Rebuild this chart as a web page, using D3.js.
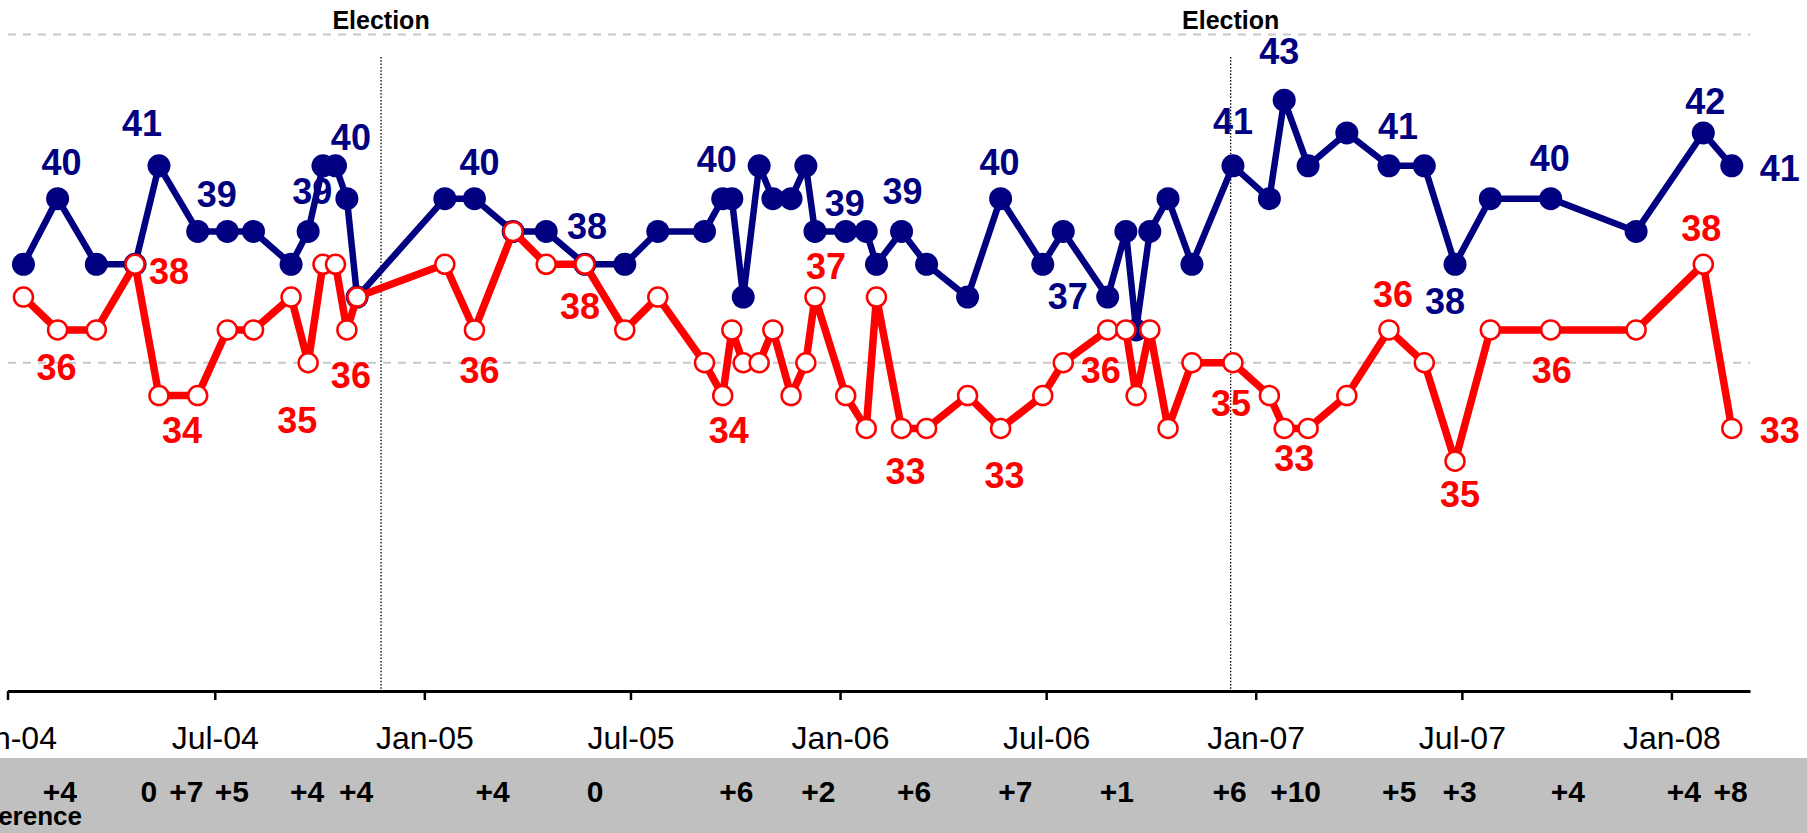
<!DOCTYPE html>
<html>
<head>
<meta charset="utf-8">
<script src="https://cdn.jsdelivr.net/npm/d3@7"></script>
<style>
  body { margin: 0; background: #fff; }
  svg { display: block; font-family: "Liberation Sans", Arial, sans-serif; }
</style>
</head>
<body>
<svg id="chart" width="1807" height="833"></svg>
<script>
// Survey dates and the two series
const dates = [
  "2004-01-15","2004-02-14","2004-03-19","2004-04-22","2004-05-13","2004-06-16","2004-07-12","2004-08-04",
  "2004-09-06","2004-09-21","2004-10-04","2004-10-15","2004-10-25","2004-11-03","2005-01-19","2005-02-14",
  "2005-03-20","2005-04-18","2005-05-22","2005-06-26","2005-07-25","2005-09-04","2005-09-20","2005-09-28",
  "2005-10-08","2005-10-22","2005-11-03","2005-11-19","2005-12-02","2005-12-10","2006-01-06","2006-01-24",
  "2006-02-02","2006-02-24","2006-03-18","2006-04-23","2006-05-22","2006-06-28","2006-07-16","2006-08-24",
  "2006-09-09","2006-09-18","2006-09-30","2006-10-16","2006-11-06","2006-12-12","2007-01-13","2007-01-26",
  "2007-02-16","2007-03-22","2007-04-28","2007-05-29","2007-06-25","2007-07-26","2007-09-17","2007-12-01",
  "2008-01-29","2008-02-23"
];
const blueValues = [38,40,38,38,41,39,39,39,38,39, 41,41,40,37,40,40,39,39,38,38,
                    39,39,40,40,37,41,40,40,41,39, 39,39,38,39,38,37,40,38,39,37,
                    39,36,39,40,38,41,40,43,41,42, 41,41,38,40,40,39,42,41];
const redValues  = [37,36,36,38,34,34,36,36,37,35, 38,38,36,37,38,36,39,38,38,36,
                    37,35,34,36,35,35,36,34,35,37, 34,33,37,33,33,34,33,34,35,36,
                    36,34,36,33,35,35,34,33,33,34, 36,35,32,36,36,36,38,33];

// Which points carry a value label, and the text shown
const blueLabels = [[1,"40"],[4,"41"],[5,"39"],[9,"39"],[12,"40"],[15,"40"],[18,"38"],[22,"40"],[30,"39"],
  [33,"39"],[36,"40"],[39,"37"],[45,"41"],[47,"43"],[50,"41"],[52,"38"],[54,"40"],[56,"42"],[57,"41"]];
const redLabels = [[1,"36"],[3,"38"],[4,"34"],[9,"35"],[12,"36"],[15,"36"],[18,"38"],[22,"34"],[29,"37"],
  [33,"33"],[36,"33"],[39,"36"],[45,"35"],[47,"33"],[50,"36"],[52,"35"],[54,"36"],[56,"38"],[57,"33"]];

// Difference row
const diffDates = ["2004-02-16","2004-05-04","2004-06-06","2004-07-16","2004-09-20","2004-11-02","2005-03-02",
  "2005-05-31","2005-10-02","2005-12-13","2006-03-07","2006-06-04","2006-09-01","2006-12-09","2007-02-05",
  "2007-05-07","2007-06-29","2007-10-02","2008-01-12","2008-02-22"];
const diffTexts = ["+4","0","+7","+5","+4","+4","+4","0","+6","+2","+6","+7","+1","+6","+10","+5","+3","+4","+4","+8"];

const electionDates = ["2004-11-24","2006-12-10"];
const tickDates = ["2004-01-01","2004-07-01","2005-01-01","2005-07-01","2006-01-01","2006-07-01",
  "2007-01-01","2007-07-01","2008-01-01"];
const gridValues = [35, 45];

// label placement offsets (px) relative to their point
const blueOffsets = [[4,-37],[-17,-43],[19,-37],[4,-40],[4,-62],[5,-37],[2,-38],[-6,-40],[-1,-28],
  [1,-40],[-1,-37],[-40,-1],[0,-45],[-5,-49],[9,-40],[-10,37],[-1,-41],[2,-32],[48,2]];
const redOffsets = [[-1,37],[34,7],[23,34],[-11,57],[4,45],[5,40],[-5,42],[6,34],[11,-31],
  [4,43],[4,47],[-7,40],[-2,40],[10,30],[4,-36],[5,33],[1,40],[-2,-36],[48,2]];

const parse = d3.timeParse("%Y-%m-%d");
const BLUE = "#000080", RED = "#ff0000";

const svg = d3.select("#chart");

const x = d3.scaleTime()
  .domain([parse("2004-01-01"), parse("2008-03-10")])
  .range([7.5, 1750]);
const y = d3.scaleLinear().domain([25, 45]).range([691, 34.5]);

// grey band behind the difference row
svg.append("rect")
  .attr("x", 0).attr("y", 758).attr("width", 1807).attr("height", 75)
  .attr("fill", "#c0c0c0");

// dashed gridlines
svg.selectAll(".grid").data(gridValues).enter().append("line")
  .attr("x1", 8).attr("x2", 1750)
  .attr("y1", d => y(d)).attr("y2", d => y(d))
  .attr("stroke", "#c8c8c8").attr("stroke-width", 2)
  .attr("stroke-dasharray", "8,7");

// election markers
electionDates.forEach(d => {
  let ex = x(parse(d));
  svg.append("line")
    .attr("x1", ex).attr("x2", ex).attr("y1", 57).attr("y2", 690)
    .attr("stroke", "#000").attr("stroke-width", 1.3)
    .attr("stroke-dasharray", "1.5,1.8");
  svg.append("text")
    .attr("x", ex).attr("y", 29)
    .attr("text-anchor", "middle")
    .attr("font-size", 25).attr("font-weight", "bold")
    .text("Election");
});

// x axis
const axis = d3.axisBottom(x)
  .tickValues(tickDates.map(parse))
  .tickFormat(d3.timeFormat("%b-%y"))
  .tickSize(9).tickSizeOuter(0).tickPadding(26);
const gx = svg.append("g").attr("transform", "translate(0," + y(25) + ")").call(axis);
gx.select(".domain").attr("stroke", "#000").attr("stroke-width", 3);
gx.selectAll(".tick line").attr("stroke", "#000").attr("stroke-width", 2.5);
gx.selectAll(".tick text")
  .attr("font-family", "'Liberation Sans', Arial, sans-serif")
  .attr("font-size", 32).attr("fill", "#000");

// value labels sit underneath the lines
function drawLabels(labels, offsets, values, color) {
  labels.forEach(([i, t], k) => {
    let [dx, dy] = offsets[k];
    svg.append("text")
      .attr("x", x(parse(dates[i])) + dx)
      .attr("y", y(values[i]) + dy + 13)
      .attr("text-anchor", "middle")
      .attr("font-size", 36).attr("font-weight", "bold")
      .attr("fill", color)
      .text(t);
  });
}
drawLabels(blueLabels, blueOffsets, blueValues, BLUE);
drawLabels(redLabels, redOffsets, redValues, RED);

const pts = vals => dates.map((d, i) => [x(parse(d)), y(vals[i])]);
const line = d3.line();

// blue series
svg.append("path").attr("d", line(pts(blueValues)))
  .attr("fill", "none").attr("stroke", BLUE).attr("stroke-width", 6.5)
  .attr("stroke-linejoin", "round");
svg.selectAll(".bdot").data(pts(blueValues)).enter().append("circle")
  .attr("cx", d => d[0]).attr("cy", d => d[1]).attr("r", 11.5)
  .attr("fill", BLUE);

// red series
svg.append("path").attr("d", line(pts(redValues)))
  .attr("fill", "none").attr("stroke", RED).attr("stroke-width", 7.5)
  .attr("stroke-linejoin", "round");
svg.selectAll(".rdot").data(pts(redValues)).enter().append("circle")
  .attr("cx", d => d[0]).attr("cy", d => d[1]).attr("r", 9.5)
  .attr("fill", "#fff").attr("stroke", RED).attr("stroke-width", 2.5);

// difference row
svg.selectAll(".diff").data(diffDates).enter().append("text")
  .attr("x", d => x(parse(d)))
  .attr("y", 801.5)
  .attr("text-anchor", "middle")
  .attr("font-size", 30).attr("font-weight", "bold")
  .text((d, i) => diffTexts[i]);

svg.append("text")
  .attr("x", 82).attr("y", 825)
  .attr("text-anchor", "end")
  .attr("font-size", 26).attr("font-weight", "bold")
  .text("Difference");
</script>
</body>
</html>
